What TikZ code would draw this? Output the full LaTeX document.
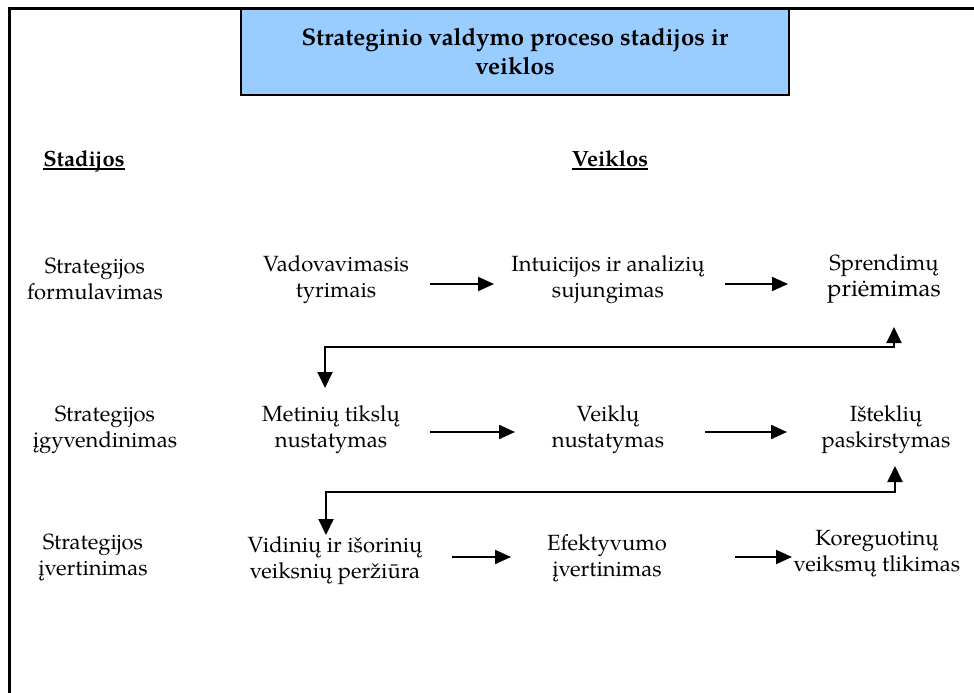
\documentclass[tikz,border=0pt]{standalone}
\usepackage{fontspec}
\setmainfont{texgyrepagella}[Extension=.otf, UprightFont=*-regular, BoldFont=*-bold, ItalicFont=*-italic, BoldItalicFont=*-bolditalic]
\usetikzlibrary{arrows.meta}
\definecolor{titleblue}{HTML}{99CCFF}
\newcommand\hdrline[1]{\setbox0\hbox{#1}\rlap{\rule[-4pt]{\wd0}{2pt}}\box0}
\tikzset{
  txt/.style={align=center, inner sep=0pt, font=\fontsize{22}{26}\selectfont},
  hdr/.style={inner sep=0pt, font=\bfseries\fontsize{22}{26}\selectfont},
  arr/.style={line width=2pt, -{Triangle[length=16pt,width=14pt]}},
  dblarr/.style={line width=2pt, {Triangle[length=16pt,width=15pt]}-{Triangle[length=16pt,width=15pt]}},
  frame/.style={line width=3pt},
  titlebox/.style={draw, line width=2pt, fill=titleblue, minimum width=548pt, minimum height=85pt, align=center, font=\bfseries\fontsize{24}{29}\selectfont}
}
\begin{document}
\begin{tikzpicture}[x=1pt,y=-1pt]
\useasboundingbox (0,0) rectangle (974,693);
% frame
\draw[frame] (9.5,693) -- (9.5,9) -- (974,9);
% title
\node[titlebox] (title) at (515,52) {Strateginio valdymo proceso stadijos ir\\veiklos};
% headers
\node[hdr, anchor=base] (hS) at (84,166) {\hdrline{Stadijos}};
\node[hdr, anchor=base] (hV) at (610,166) {\hdrline{Veiklos}};
% stages
\node[txt] (s1) at (95,279) {Strategijos\\formulavimas};
\node[txt] (s2) at (105,430) {Strategijos\\įgyvendinimas};
\node[txt] (s3) at (93,557) {Strategijos\\įvertinimas};
% activities row 1
\node[txt] (a11) at (336,280) {Vadovavimasis\\tyrimais};
\node[txt] (a12) at (608,280) {Intuicijos ir analizių\\sujungimas};
\node[txt] (a13) at (884,279) {Sprendimų\\{\fontsize{24}{29}\selectfont priėmimas}};
% row 2
\node[txt] (a21) at (331,430) {Metinių tikslų\\nustatymas};
\node[txt] (a22) at (608,430) {Veiklų\\nustatymas};
\node[txt] (a23) at (886,430) {Išteklių\\paskirstymas};
% row 3
\node[txt] (a31) at (335,561) {Vidinių ir išorinių\\veiksnių peržiūra};
\node[txt] (a32) at (607,558) {Efektyvumo\\įvertinimas};
\node[txt] (a33) at (877,554) {Koreguotinų\\veiksmų tlikimas};
% horizontal arrows
\draw[arr] ([shift={(94,4)}]a11.center) -- ([shift={(-114,4)}]a12.center);
\draw[arr] ([shift={(117,4)}]a12.center) -- ([shift={(-96,5)}]a13.center);
\draw[arr] ([shift={(99,2)}]a21.center) -- ([shift={(-93,2)}]a22.center);
\draw[arr] ([shift={(97,2)}]a22.center) -- ([shift={(-99,2)}]a23.center);
\draw[arr] ([shift={(117,-4)}]a31.center) -- ([shift={(-96,-1)}]a32.center);
\draw[arr] ([shift={(128,-1)}]a32.center) -- ([shift={(-85,3)}]a33.center);
% feedback connectors
\draw[dblarr] ([shift={(10,48)}]a13.center) -- ([shift={(10,68)}]a13.center) -| ([shift={(-6,-42)}]a21.center);
\draw[dblarr] ([shift={(9,36)}]a23.center) -- ([shift={(9,62)}]a23.center) -| ([shift={(-9,-26)}]a31.center);
\end{tikzpicture}
\end{document}
